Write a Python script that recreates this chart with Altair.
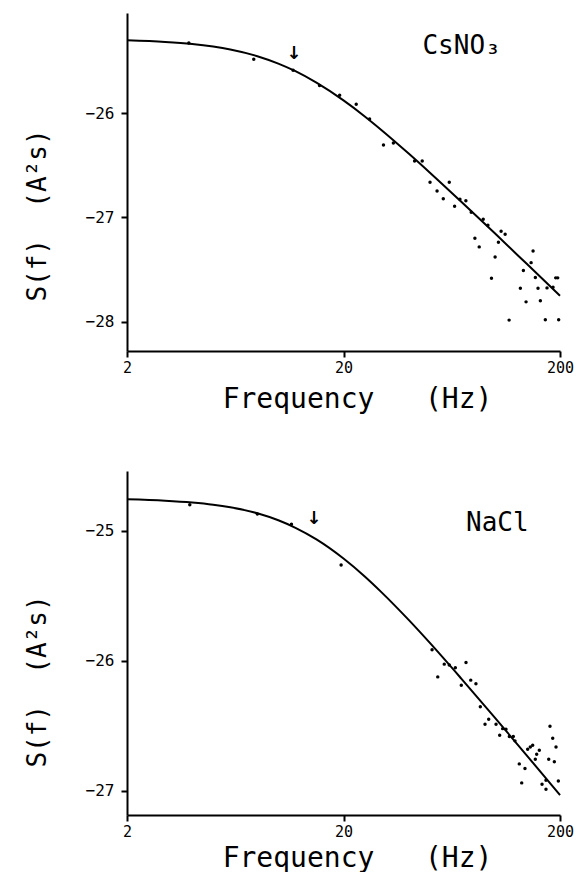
import altair as alt
import pandas as pd

# ---------------- CsNO3 panel (top) ----------------
cs_freq = [3.86, 7.7, 11.7, 15.5, 19.2, 22.9, 26.4, 30.6, 34.0,
           42.6, 46.2, 50.2, 61.6, 54.1, 57.8, 69.0, 73.5, 65.2, 77.8,
           88.4, 92.9, 106.9, 111.6, 103.9, 80.9, 84.7, 100.3, 150.2, 147.1,
           135.5, 96.5, 153.9, 191.1, 195.2, 131.2, 158.3, 174.2, 185.7,
           139.4, 162.3, 116.4, 171.1, 197.2]
cs_val = [-25.327, -25.483, -25.589, -25.735, -25.828, -25.914, -26.057, -26.306, -26.287,
          -26.459, -26.459, -26.663, -26.663, -26.746, -26.820, -26.826, -26.839, -26.893, -26.950,
          -27.017, -27.075, -27.132, -27.161, -27.237, -27.199, -27.282, -27.378, -27.321, -27.433,
          -27.509, -27.582, -27.576, -27.579, -27.579, -27.678, -27.678, -27.675, -27.668,
          -27.809, -27.799, -27.984, -27.981, -27.981]
cs_fit_freq = [2, 3, 4, 5, 6, 8, 10, 12, 15, 20, 25, 30, 40, 50, 70, 100, 140, 200]
cs_fit_val = [-25.302, -25.317, -25.337, -25.362, -25.390, -25.454, -25.525, -25.598,
              -25.708, -25.878, -26.029, -26.163, -26.387, -26.568, -26.849, -27.152,
              -27.442, -27.750]

# ---------------- NaCl panel (bottom) ----------------
na_freq = [3.9, 8.0, 11.5, 19.5, 51.3, 54.5, 58.4, 61.6, 65.7, 73.6, 70.0, 77.4, 81.8,
           85.7, 93.7, 90.1, 101.3, 108.7, 112.6, 105.3, 116.7, 121.7, 123.9, 141.8,
           145.8, 149.6, 156.1, 160.5, 153.8, 129.7, 137.8, 133.1, 179.8, 185.1, 191.7,
           177.4, 188.3, 196.5, 172.3, 165.2, 172.3]
na_val = [-24.80, -24.87, -24.95, -25.262, -25.915, -26.123, -26.025, -26.031, -26.052,
          -26.013, -26.187, -26.148, -26.175, -26.352, -26.448, -26.487, -26.487, -26.521,
          -26.525, -26.572, -26.582, -26.582, -26.615, -26.679, -26.662, -26.648, -26.718,
          -26.687, -26.756, -26.792, -26.828, -26.938, -26.502, -26.595, -26.662, -26.756,
          -26.775, -26.923, -26.918, -26.948, -26.987]
na_fit_freq = [2, 3, 4, 5, 6, 8, 10, 12, 15, 20, 25, 30, 40, 50, 70, 100, 140, 200]
na_fit_val = [-24.758, -24.768, -24.782, -24.799, -24.819, -24.865, -24.919, -24.977,
              -25.066, -25.213, -25.349, -25.473, -25.685, -25.860, -26.136, -26.436,
              -26.724, -27.032]

x_ticks = [2, 20, 200]
cs_y_ticks = [-26, -27, -28]
na_y_ticks = [-25, -26, -27]

FONT = "DejaVu Sans"
MONO = "DejaVu Sans Mono"
W = 433


def panel(freq, val, fit_f, fit_v, ydom, yticks, height, name, name_f, name_v,
          arrow_f, arrow_v, ytitle_y, xtitle_y):
    pts = pd.DataFrame({"f": freq, "v": val})
    fit = pd.DataFrame({"f": fit_f, "v": fit_v})
    lab = pd.DataFrame({"f": [name_f], "v": [name_v], "t": [name]})
    arr = pd.DataFrame({"f": [arrow_f], "v": [arrow_v], "t": ["\u2193"]})

    x = alt.X("f:Q",
              scale=alt.Scale(type="log", domain=[2, 200], nice=False),
              axis=alt.Axis(values=x_ticks, format="d", grid=False,
                            title="Frequency\u00a0\u00a0\u00a0(Hz)",
                            titleX=230, titleY=xtitle_y, titleBaseline="middle",
                            titleAlign="center", titleFont=MONO, titleFontSize=28,
                            titleFontWeight="normal",
                            labelFont=MONO, labelFontSize=15, labelPadding=3,
                            labelFlush=False))
    y = alt.Y("v:Q",
              scale=alt.Scale(domain=ydom, nice=False, zero=False),
              axis=alt.Axis(values=yticks, format="d", grid=False,
                            title="S(f)\u00a0\u00a0(A\u00b2s)",
                            titleX=-90, titleY=ytitle_y, titleAngle=270,
                            titleAlign="center", titleBaseline="middle",
                            titleFont=MONO, titleFontSize=26,
                            titleFontWeight="normal",
                            labelFont=MONO, labelFontSize=16, labelPadding=7))

    line = alt.Chart(fit).mark_line(color="black", strokeWidth=2,
                                    interpolate="monotone").encode(x=x, y=y)
    dots = alt.Chart(pts).mark_circle(color="black", size=12, opacity=1).encode(
        x="f:Q", y="v:Q")
    name_txt = alt.Chart(lab).mark_text(align="left", baseline="alphabetic",
                                        font=MONO, fontSize=26, color="black").encode(
        x="f:Q", y="v:Q", text="t:N")
    arrow_txt = alt.Chart(arr).mark_text(align="center", baseline="middle",
                                         font=FONT, fontSize=18, fontWeight="bold",
                                         color="black").encode(
        x="f:Q", y="v:Q", text="t:N")
    return alt.layer(line, dots, name_txt, arrow_txt).properties(width=W, height=height)


top = panel(cs_freq, cs_val, cs_fit_freq, cs_fit_val, [-28.28, -25.04], cs_y_ticks, 338,
            "CsNO\u2083", 46.3, -25.43, 11.8, -25.43, 202, 48)
bottom = panel(na_freq, na_val, na_fit_freq, na_fit_val, [-27.185, -24.54], na_y_ticks, 344,
               "NaCl", 73.6, -25.0, 14.6, -24.91, 210, 43)

chart = alt.vconcat(top, bottom, spacing=58).properties(
    padding={"left": 16, "top": 5, "right": 0, "bottom": 0}
).configure(background="white").configure_view(
    strokeWidth=0, stroke="transparent"
).configure_axis(
    grid=False, domainColor="black", domainWidth=2, tickColor="black", tickWidth=2,
    tickSize=6, labelColor="black", titleColor="black"
)

chart.save("out.html", embed_options={"renderer": "svg", "actions": False})
